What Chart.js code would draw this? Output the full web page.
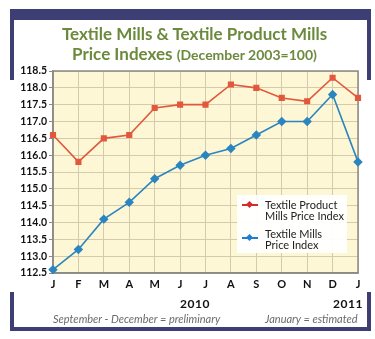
<!DOCTYPE html>
<html>
<head>
<meta charset="utf-8">
<script src="https://cdn.jsdelivr.net/npm/chart.js@4.4.1/dist/chart.umd.min.js"></script>
<style>
  body { margin: 0; background: #fff; }
  #wrap { position: relative; width: 375px; height: 339px; overflow: hidden; font-family: Lato, "Open Sans", sans-serif; }
  #wrap canvas { position: absolute; left: 0; top: 0; }
  .bar { position: absolute; background: #3d3f74; }
  #title { position: absolute; left: 12px; top: 24px; width: 365px; text-align: center; color: #6c8a3c; font-weight: bold; font-size: 17px; line-height: 20px; }
  #title small { font-size: 14px; }
  .legend { position: absolute; left: 237px; top: 195px; width: 110px; height: 58px; background: rgba(255,255,255,0.95); }
  .item { position: absolute; left: 28px; font-size: 11px; line-height: 10.5px; color: #222; }
  .key { position: absolute; left: 5px; width: 16px; height: 2px; }
  .key i { position: absolute; left: 5px; top: -2.5px; width: 5px; height: 5px; transform: rotate(45deg); }
  .year { position: absolute; top: 296px; font-weight: bold; font-size: 12px; color: #111; letter-spacing: 0.5px; }
  .note { position: absolute; top: 312px; font-style: italic; font-size: 11px; color: #6a6a6a; }
</style>
</head>
<body>
<div id="wrap">
  <canvas id="chart" width="375" height="339"></canvas>
  <div class="bar" style="left:10px;top:9px;width:361px;height:11px"></div>
  <div class="bar" style="left:10px;top:9px;width:4px;height:71px"></div>
  <div class="bar" style="left:367px;top:9px;width:4px;height:71px"></div>
  <div class="bar" style="left:10px;top:292px;width:4px;height:39px"></div>
  <div class="bar" style="left:367px;top:292px;width:4px;height:39px"></div>
  <div class="bar" style="left:10px;top:327px;width:361px;height:4px"></div>
  <div id="title">Textile Mills &amp; Textile Product Mills<br>Price Indexes <small>(December 2003=100)</small></div>
  <div class="legend">
    <div class="key" style="top:9px;background:#d62b2b"><i style="background:#d62b2b"></i></div>
    <div class="item" style="top:5px">Textile Product<br>Mills Price Index</div>
    <div class="key" style="top:42px;background:#1f7fcf"><i style="background:#1f7fcf"></i></div>
    <div class="item" style="top:34px">Textile Mills<br>Price Index</div>
  </div>
  <div class="year" style="left:180px">2010</div>
  <div class="year" style="left:333px">2011</div>
  <div class="note" style="left:53px">September - December = preliminary</div>
  <div class="note" style="left:265px">January = estimated</div>
</div>
<script>
// month labels, Jan 2010 to Jan 2011
const months = ['J', 'F', 'M', 'A', 'M', 'J', 'J', 'A', 'S', 'O', 'N', 'D', 'J'];
const productMills = [116.6, 115.8, 116.5, 116.6, 117.4, 117.5, 117.5, 118.1, 118.0, 117.7, 117.6, 118.3, 117.7];
const textileMills = [112.6, 113.2, 114.1, 114.6, 115.3, 115.7, 116.0, 116.2, 116.6, 117.0, 117.0, 117.8, 115.8];
const yMin = 112.5;
const yMax = 118.5;
const yStep = 0.5;

// yellow plot background and grey frame round it
const plotBg = {
    id: 'plotBg',
    beforeDraw(chart) {
        const a = chart.chartArea;
        const ctx = chart.ctx;
        ctx.save();
        ctx.fillStyle = '#fdf7d6';
        ctx.fillRect(a.left, a.top, a.right - a.left, a.bottom - a.top);
        ctx.restore();
    },
    beforeDatasetsDraw(chart) {
        const a = chart.chartArea;
        const ctx = chart.ctx;
        ctx.save();
        ctx.strokeStyle = '#8c8a84';
        ctx.lineWidth = 1.5;
        ctx.strokeRect(a.left, a.top, a.right - a.left, a.bottom - a.top);
        ctx.restore();
    }
};

new Chart(document.getElementById('chart'), {
    type: 'line',
    data: {
        labels: months,
        datasets: [
            {
                label: 'Textile Product Mills Price Index',
                data: productMills,
                borderColor: '#e2583c',
                backgroundColor: '#e2583c',
                borderWidth: 1.6,
                pointStyle: 'rect',
                pointRadius: 3.2,
                clip: false
            },
            {
                label: 'Textile Mills Price Index',
                data: textileMills,
                borderColor: '#2b85bf',
                backgroundColor: '#2b85bf',
                borderWidth: 1.6,
                pointStyle: 'rectRot',
                pointRadius: 3.6,
                clip: false
            }
        ]
    },
    options: {
        responsive: false,
        animation: false,
        layout: { padding: { left: 0, top: 71, right: 17, bottom: 0 } },
        plugins: { legend: { display: false }, tooltip: { enabled: false } },
        scales: {
            x: {
                offset: false,
                afterFit: scale => { scale.height = 66; },
                grid: { color: '#d3cbab', drawTicks: false },
                border: { color: '#8c8a84', width: 1.5 },
                ticks: { color: '#111', padding: 5, maxRotation: 0, autoSkip: false, font: { family: 'Lato', weight: 'bold', size: 11 } }
            },
            y: {
                min: yMin,
                max: yMax,
                afterFit: scale => { scale.width = 53; },
                grid: { color: '#d3cbab', tickLength: 4, tickColor: '#8c8a84' },
                border: { color: '#8c8a84', width: 1.5 },
                ticks: { stepSize: yStep, color: '#111', padding: 2, font: { family: 'Lato', weight: 'bold', size: 10.5 }, callback: v => v.toFixed(1) }
            }
        }
    },
    plugins: [plotBg]
});
</script>
</body>
</html>
